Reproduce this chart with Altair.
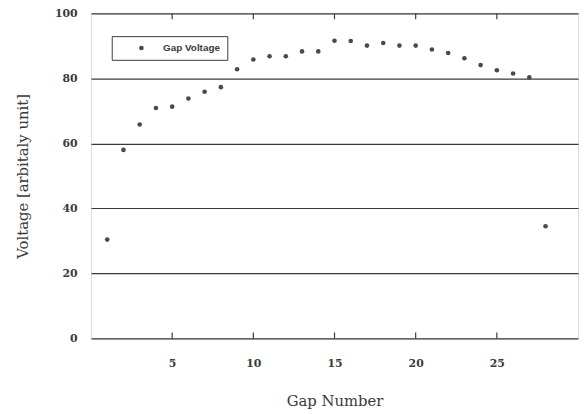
import altair as alt
import pandas as pd

gap = list(range(1, 29))
voltage = [30.4, 58.0, 65.8, 70.9, 71.3, 73.8, 75.9, 77.3, 82.8, 85.8,
           86.8, 86.8, 88.3, 88.3, 91.6, 91.5, 90.1, 90.9, 90.1, 90.1,
           88.9, 87.8, 86.2, 84.1, 82.5, 81.5, 80.3, 34.5]
series = ["Gap Voltage"] * len(gap)
x_ticks = [5, 10, 15, 20, 25]
y_ticks = [0, 20, 40, 60, 80, 100]

df = pd.DataFrame({"gap": gap, "voltage": voltage, "series": series})
ticks_df = pd.DataFrame({"t": x_ticks})

W, H = 493, 329
ink = "#3a3a3a"
serif = "DejaVu Serif"

xscale = alt.Scale(domain=[0, 30], nice=False)
yscale = alt.Scale(domain=[0, 100], nice=False)

points = alt.Chart(df).mark_circle(size=22, opacity=1).encode(
    x=alt.X("gap:Q", scale=xscale,
            axis=alt.Axis(values=x_ticks, title="Gap Number", ticks=False, domain=False,
                          grid=False, labelPadding=19, labelFont=serif, labelFontSize=11,
                          labelFontWeight="bold", labelColor=ink, titleFont=serif,
                          titleFontSize=15, titleFontWeight="normal", titleColor=ink,
                          titlePadding=26)),
    y=alt.Y("voltage:Q", scale=yscale,
            axis=alt.Axis(values=y_ticks, title="Voltage [arbitaly unit]", ticks=False,
                          domain=False, grid=True, gridColor=ink, gridWidth=1.2,
                          gridOpacity=1, labelPadding=14, labelFont=serif, labelFontSize=11,
                          labelFontWeight="bold", labelColor=ink, titleFont=serif,
                          titleFontSize=15, titleFontWeight="normal", titleColor=ink,
                          titlePadding=24)),
    color=alt.Color("series:N", scale=alt.Scale(range=["#4a4a4a"]),
                    legend=alt.Legend(title=None, orient="none", legendX=21, legendY=23,
                                      strokeColor=ink, padding=7, symbolOffset=18,
                                      labelOffset=17, symbolSize=22, symbolType="circle",
                                      labelFont="Liberation Sans", labelFontSize=10,
                                      labelFontWeight="bold", labelColor=ink,
                                      fillColor="white")),
)

top_ticks = alt.Chart(ticks_df).mark_rule(color=ink, strokeWidth=1.2).encode(
    x=alt.X("t:Q", scale=xscale, axis=None),
    y=alt.value(0), y2=alt.value(6),
)
bottom_ticks = alt.Chart(ticks_df).mark_rule(color=ink, strokeWidth=1.2).encode(
    x=alt.X("t:Q", scale=xscale, axis=None),
    y=alt.value(H - 6), y2=alt.value(H),
)

chart = alt.layer(points, top_ticks, bottom_ticks).resolve_axis(
    x="independent"
).properties(
    width=W, height=H,
    autosize=alt.AutoSizeParams(type="none"),
    padding={"left": 84, "top": 3, "right": 2, "bottom": 70},
).configure_view(stroke=ink, strokeWidth=1.5).configure(background="white")

chart.save("out.html", embed_options={"renderer": "svg", "actions": False})
